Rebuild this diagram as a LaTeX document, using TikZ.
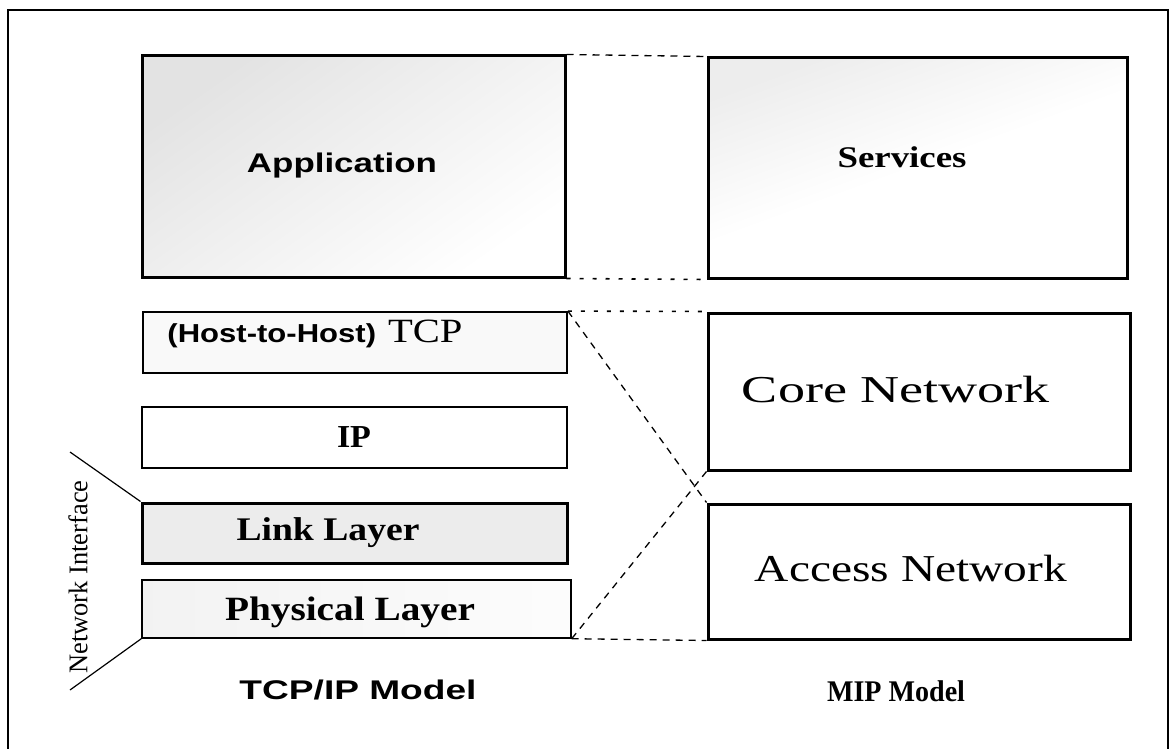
\documentclass[tikz,border=0pt]{standalone}
\usepackage{fontspec}
\setmainfont{Liberation Serif}
\setsansfont{Liberation Sans}
\usepackage{graphicx}
\newcommand{\fittxt}[3]{\resizebox{#1pt}{\height}{\fontsize{#2}{#2}\selectfont #3}}
\tikzset{
  thickbox/.style={draw, line width=3pt, inner sep=0pt, anchor=center},
  thinbox/.style={draw, line width=1.8pt, inner sep=0pt, anchor=center},
  lbl/.style={inner sep=0pt, anchor=center},
  dsh/.style={line width=1.3pt, dash pattern=on 7pt off 6pt},
  dtt/.style={line width=1.6pt, dash pattern=on 4pt off 9pt},
  frame/.style={line width=1.5pt}
}
\begin{document}
\begin{tikzpicture}[x=1pt,y=-1pt]
\useasboundingbox (0,0) rectangle (1171,749);
\fill[white] (0,0) rectangle (1171,749);
% outer frame
\draw[frame] (8,760) -- (8,10) -- (1168,10) -- (1168,760);
% boxes
\node[thickbox, top color=gray!22, bottom color=white, shading angle=35,
      minimum width=423pt, minimum height=221pt] (app) at (353.5,166.5) {};
\node[thickbox, top color=gray!14, bottom color=white, middle color=white, shading angle=20,
      minimum width=419pt, minimum height=220pt] (svc) at (917.5,168) {};
\node[thinbox, fill=gray!5, minimum width=424pt, minimum height=61pt] (tcp) at (355,342.5) {};
\node[thickbox, line width=2.4pt, fill=white, minimum width=425pt, minimum height=61pt] (ip) at (354.5,437.5) {};
\node[thickbox, fill=gray!15, minimum width=425pt, minimum height=60pt] (link) at (354.5,533) {};
\node[thinbox, line width=1.4pt, left color=gray!10, right color=gray!2,
      minimum width=429pt, minimum height=58pt] (phys) at (356.5,609) {};
\node[thickbox, fill=white, minimum width=422pt, minimum height=157pt] (core) at (919,391.5) {};
\node[thickbox, fill=white, minimum width=422pt, minimum height=135pt] (acc) at (919,571.5) {};
% labels
\node[lbl] (tapp) at (342,166) {\fittxt{190}{27}{\sffamily\bfseries Application}};
\node[lbl] (tsvc) at (902,157) {\fittxt{129}{30}{\bfseries Services}};
\node[lbl] (ttcp) at (315,334) {\resizebox{295pt}{\height}{\fontsize{26}{26}\selectfont\sffamily\bfseries (Host-to-Host)\hspace{10pt}\rmfamily\mdseries\fontsize{34}{34}\selectfont TCP}};
\node[lbl] (tip) at (354,437) {\fittxt{34}{32}{\bfseries IP}};
\node[lbl] (tlink) at (328,533) {\fittxt{183}{33}{\bfseries Link Layer}};
\node[lbl] (tphys) at (350,612) {\fittxt{250}{34}{\bfseries Physical Layer}};
\node[lbl] (tcore) at (896,390) {\fittxt{308}{38}{Core Network}};
\node[lbl] (tacc) at (911,568) {\fittxt{312}{38}{Access Network}};
\node[lbl] (ttcpip) at (358,690) {\fittxt{237}{27}{\sffamily\bfseries TCP/IP Model}};
\node[lbl] (tmip) at (896,691) {\fittxt{138}{30}{\bfseries MIP Model}};
\node[lbl, rotate=90] (tni) at (78,577) {\fittxt{193}{27}{Network Interface}};
% connectors
\draw[dsh] (app.north east) -- (svc.north west);
\draw[dtt] (app.south east) -- (svc.south west);
\draw[dtt] (tcp.north east) -- (core.north west);
\draw[dsh] (tcp.north east) -- (acc.north west);
\draw[dsh] (phys.south east) -- (core.south west);
\draw[dsh] (phys.south east) -- (acc.south west);
\coordinate (nitop) at (70,452);
\coordinate (nibot) at (70,690);
\draw[line width=1.2pt] (nitop) -- (link.north west);
\draw[line width=1.2pt] (phys.south west) -- (nibot);
\end{tikzpicture}
\end{document}
